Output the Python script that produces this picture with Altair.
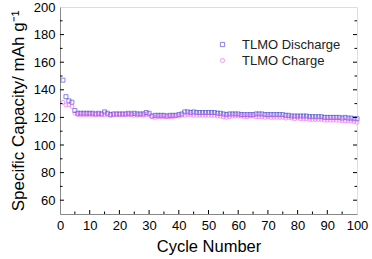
import altair as alt
import pandas as pd

cycles = list(range(1, 101))
discharge = [
    147, 135, 132, 131, 125, 123, 123, 123, 123, 123,
    123, 122.5, 123, 122.5, 124, 123, 122, 122.5, 122.5, 122.5,
    122.5, 122.5, 123, 122.5, 123, 122.5, 122.5, 122.5, 123.5, 123,
    121, 121.5, 121.5, 121.5, 121.5, 121, 121.5, 121.5, 121.5, 122,
    122.5, 124, 124, 123.5, 124, 123.5, 123.5, 123.5, 123.5, 123.5,
    123.5, 123.5, 123, 123, 122.5, 122, 122.5, 122.5, 122.5, 122.5,
    122, 122, 122, 122, 122, 122.5, 122.5, 122.5, 122, 122,
    122, 122, 122, 122, 122, 121.5, 121.5, 121, 121, 121,
    121, 121, 121, 120.5, 120.5, 120.5, 120.5, 120.5, 120, 120,
    120, 120, 120, 120, 119.5, 120, 119.5, 119.5, 119, 119,
]
charge = [
    131, 129, 129, 128, 123, 122, 122, 122, 122, 122,
    122, 122, 122, 122, 122, 122, 121.5, 122, 122, 122,
    122, 122, 122, 122, 121.5, 121.5, 122, 121.5, 122, 122,
    120.5, 120, 120.5, 120.5, 120.5, 120.5, 120.5, 120.5, 121, 121,
    121.5, 121.5, 122, 122, 121.5, 121.5, 121.5, 121.5, 121.5, 121.5,
    121.5, 121.5, 121, 121, 120.5, 120, 120.5, 121, 121, 121,
    121, 120.5, 120.5, 121, 121, 120.5, 120.5, 120.5, 120, 120.5,
    120, 120, 120, 120, 120, 119.5, 120, 119.5, 119, 119.5,
    119, 119, 119, 118.5, 118.5, 118.5, 118.5, 118.5, 118, 118,
    118, 118, 118, 118, 117.5, 117.5, 117.5, 117.5, 117, 116.5,
]
series_names = ["TLMO Discharge", "TLMO Charge"]
series_colors = ["#3f3fcf", "#f060f0"]
series_shapes = ["square", "circle"]

x_labels = [0, 10, 20, 30, 40, 50, 60, 70, 80, 90, 100]
y_labels = [60, 80, 100, 120, 140, 160, 180, 200]
x_major = [10, 20, 30, 40, 50, 60, 70, 80, 90]
x_minor = [5, 15, 25, 35, 45, 55, 65, 75, 85, 95]
y_major = [60, 80, 100, 120, 140, 160, 180]
y_minor = [70, 90, 110, 130, 150, 170, 190]

W, H = 297, 207
FONT = "Liberation Sans"
X_TITLE = "Cycle Number"
Y_TITLE = "Specific Capacity/ mAh g\u207b\u00b9"

df = pd.DataFrame({
    "cycle": cycles * 2,
    "cap": discharge + charge,
    "series": [series_names[0]] * 100 + [series_names[1]] * 100,
})

xs = alt.Scale(domain=[0, 100], nice=False, zero=False)
ys = alt.Scale(domain=[50, 200], nice=False, zero=False)
xaxis = alt.Axis(values=x_labels, ticks=False, labelOverlap=False,
                 labelFontSize=13, labelPadding=5, titleFontSize=16.5,
                 titleFontWeight="normal", titlePadding=6, labelFlush=False, grid=False)
yaxis = alt.Axis(values=y_labels, ticks=False, labelOverlap=False,
                 labelFontSize=13, labelPadding=5, titleFontSize=17,
                 titleFontWeight="normal", labelFlush=False, titlePadding=6, grid=False)

points = alt.Chart(df).mark_point(filled=False, size=16, strokeWidth=0.9).encode(
    x=alt.X("cycle:Q", scale=xs, title=X_TITLE, axis=xaxis),
    y=alt.Y("cap:Q", scale=ys, title=Y_TITLE, axis=yaxis),
    color=alt.Color("series:N", scale=alt.Scale(domain=series_names, range=series_colors),
                    title=None,
                    legend=alt.Legend(orient="none", legendX=156, legendY=31,
                                      labelFontSize=13, labelFont=FONT, symbolSize=18,
                                      symbolStrokeWidth=0.9, rowPadding=2, labelOffset=13,
                                      padding=0, labelColor="#222222")),
    shape=alt.Shape("series:N", scale=alt.Scale(domain=series_names, range=series_shapes),
                    legend=None),
)

def xticks(vals, length):
    return alt.Chart(pd.DataFrame({"v": vals})).mark_rule(color="black", strokeWidth=1).encode(
        x=alt.X("v:Q", scale=xs, title=X_TITLE, axis=xaxis),
        y=alt.value(H), y2=alt.value(H - length))

def yticks(vals, length, right=False):
    base = alt.Chart(pd.DataFrame({"v": vals})).mark_rule(color="black", strokeWidth=1)
    y = alt.Y("v:Q", scale=ys, title=Y_TITLE, axis=yaxis)
    if right:
        return base.encode(y=y, x=alt.value(W), x2=alt.value(W - length))
    return base.encode(y=y, x=alt.value(0), x2=alt.value(length))

chart = alt.layer(
    points,
    xticks(x_major, 4), xticks(x_minor, 2.5),
    yticks(y_major, 4), yticks(y_minor, 2.5),
    yticks(y_major, 4, True), yticks(y_minor, 2.5, True),
).properties(
    width=W, height=H,
    autosize=alt.AutoSizeParams(type="none"),
    padding={"left": 60, "top": 7, "right": 15, "bottom": 45},
).configure_view(
    stroke="black", strokeWidth=1.5
).configure_axis(
    labelFont=FONT, titleFont=FONT, labelColor="#222222", titleColor="#222222",
    domainColor="black", domainWidth=1.5
).configure(background="white")

chart.save("out.html", embed_options={"renderer": "svg", "actions": False})
